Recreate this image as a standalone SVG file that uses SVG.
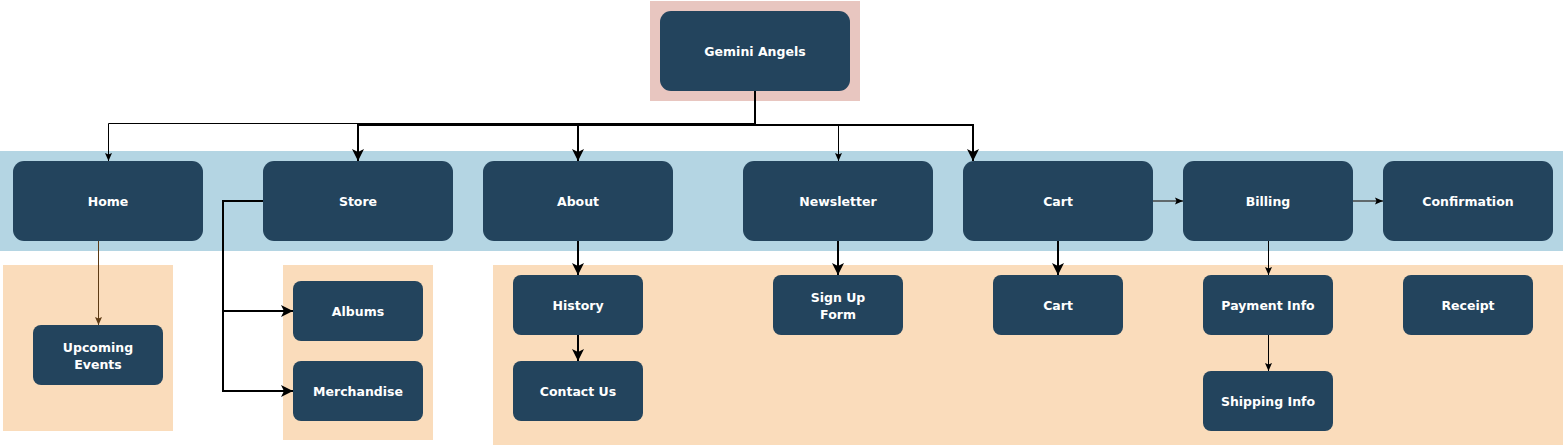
<svg xmlns="http://www.w3.org/2000/svg" width="1565" height="446" viewBox="0 0 1565 446">
<style>
.band-blue{fill:#B4D5E3}
.band-orange{fill:#FADCBB}
.band-pink{fill:#E8C6C0}
.node rect{fill:#23445D}
.node text{fill:#FFFFFF;font-family:"DejaVu Sans","Liberation Sans",sans-serif;font-weight:bold;font-size:12.5px;text-anchor:middle;dominant-baseline:central}
.thin{fill:none;stroke:#000;stroke-width:1}
.thick{fill:none;stroke:#000;stroke-width:2}
.gray{fill:none;stroke:#444;stroke-width:1.5}
.brown{fill:none;stroke:#5C3A14;stroke-width:1}
</style>
<defs>
<marker id="big" markerUnits="userSpaceOnUse" markerWidth="12" markerHeight="12" viewBox="0 0 12 12" refX="12" refY="6" orient="auto">
<path d="M0,0 L12,6 L0,12 L3,6 Z" fill="#000"/>
</marker>
<marker id="small" markerUnits="userSpaceOnUse" markerWidth="8" markerHeight="8" viewBox="0 0 8 8" refX="8" refY="4" orient="auto">
<path d="M0,0.5 L8,4 L0,7.5 L1.5,4 Z" fill="#000"/>
</marker>
<marker id="smallbrown" markerUnits="userSpaceOnUse" markerWidth="8" markerHeight="8" viewBox="0 0 8 8" refX="8" refY="4" orient="auto">
<path d="M0,0.5 L8,4 L0,7.5 L1.5,4 Z" fill="#5C3A14"/>
</marker>
</defs>
<rect width="1565" height="446" fill="#FFFFFF"/>
<g id="bands">
<rect class="band-pink" x="650" y="1" width="210" height="100"/>
<rect class="band-blue" x="0" y="151" width="1563" height="100"/>
<rect class="band-orange" x="3" y="265" width="170" height="166"/>
<rect class="band-orange" x="283" y="265" width="150" height="175"/>
<rect class="band-orange" x="493" y="265" width="1070" height="180"/>
</g>
<g id="connectors">
<path class="thin" d="M755,91 V123.5 H108.5 V161" marker-end="url(#small)"/>
<path class="thick" d="M755,91 V125 H358 V161" marker-end="url(#big)"/>
<path class="thick" d="M755,125 H578 V161" marker-end="url(#big)"/>
<path class="thin" d="M755,124.5 H838.5 V161" marker-end="url(#small)"/>
<path class="thick" d="M755,125 H973 V161" marker-end="url(#big)"/>
<path class="thick" d="M263,201 H223 V311 H293" marker-end="url(#big)"/>
<path class="thick" d="M223,311 V391 H293" marker-end="url(#big)"/>
<path class="brown" d="M98.5,241 V325" marker-end="url(#smallbrown)"/>
<path class="thick" d="M578,241 V275" marker-end="url(#big)"/>
<path class="thick" d="M578,335 V361" marker-end="url(#big)"/>
<path class="thick" d="M838,241 V275" marker-end="url(#big)"/>
<path class="thick" d="M1058,241 V275" marker-end="url(#big)"/>
<path class="gray" d="M1153,201 H1183" marker-end="url(#small)"/>
<path class="gray" d="M1353,201 H1383" marker-end="url(#small)"/>
<path class="thin" d="M1268.5,241 V275" marker-end="url(#small)"/>
<path class="thin" d="M1268.5,335 V371" marker-end="url(#small)"/>
</g>
<g id="gemini" class="node"><rect x="660" y="11" width="190" height="80" rx="11"/><text x="755" y="51">Gemini Angels</text></g>
<g id="home" class="node"><rect x="13" y="161" width="190" height="80" rx="11"/><text x="108" y="201">Home</text></g>
<g id="store" class="node"><rect x="263" y="161" width="190" height="80" rx="11"/><text x="358" y="201">Store</text></g>
<g id="about" class="node"><rect x="483" y="161" width="190" height="80" rx="11"/><text x="578" y="201">About</text></g>
<g id="newsletter" class="node"><rect x="743" y="161" width="190" height="80" rx="11"/><text x="838" y="201">Newsletter</text></g>
<g id="cart" class="node"><rect x="963" y="161" width="190" height="80" rx="11"/><text x="1058" y="201">Cart</text></g>
<g id="billing" class="node"><rect x="1183" y="161" width="170" height="80" rx="11"/><text x="1268" y="201">Billing</text></g>
<g id="confirmation" class="node"><rect x="1383" y="161" width="170" height="80" rx="11"/><text x="1468" y="201">Confirmation</text></g>
<g id="upcoming" class="node"><rect x="33" y="325" width="130" height="60" rx="8"/><text x="98" y="347">Upcoming</text><text x="98" y="364">Events</text></g>
<g id="albums" class="node"><rect x="293" y="281" width="130" height="60" rx="8"/><text x="358" y="311">Albums</text></g>
<g id="merchandise" class="node"><rect x="293" y="361" width="130" height="60" rx="8"/><text x="358" y="391">Merchandise</text></g>
<g id="history" class="node"><rect x="513" y="275" width="130" height="60" rx="8"/><text x="578" y="305">History</text></g>
<g id="contact" class="node"><rect x="513" y="361" width="130" height="60" rx="8"/><text x="578" y="391">Contact Us</text></g>
<g id="signup" class="node"><rect x="773" y="275" width="130" height="60" rx="8"/><text x="838" y="297">Sign Up</text><text x="838" y="314">Form</text></g>
<g id="cart2" class="node"><rect x="993" y="275" width="130" height="60" rx="8"/><text x="1058" y="305">Cart</text></g>
<g id="payment" class="node"><rect x="1203" y="275" width="130" height="60" rx="8"/><text x="1268" y="305">Payment Info</text></g>
<g id="receipt" class="node"><rect x="1403" y="275" width="130" height="60" rx="8"/><text x="1468" y="305">Receipt</text></g>
<g id="shipping" class="node"><rect x="1203" y="371" width="130" height="60" rx="8"/><text x="1268" y="401">Shipping Info</text></g>
</svg>
